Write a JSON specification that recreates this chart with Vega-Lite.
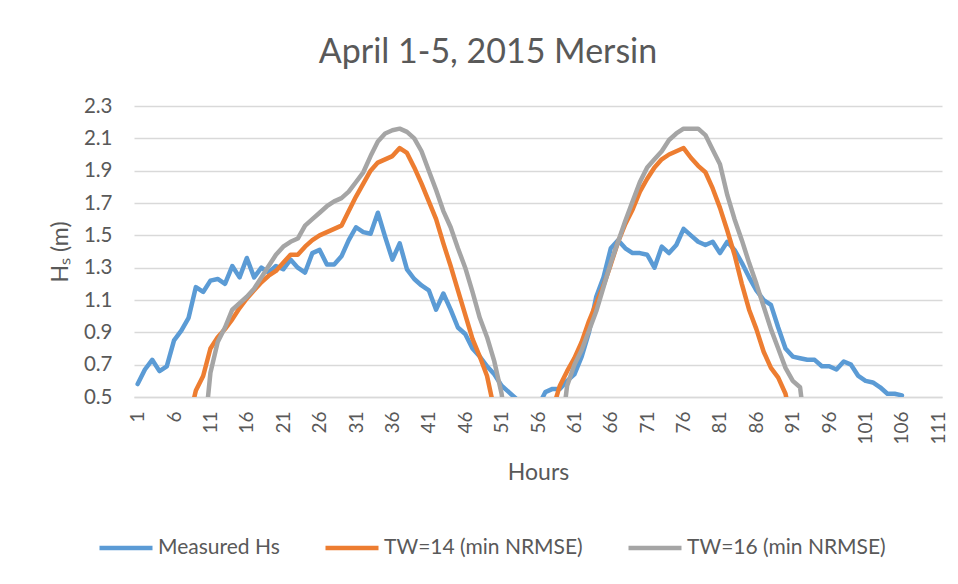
{
  "$schema": "https://vega.github.io/schema/vega-lite/v6.json",
  "width": 808,
  "height": 291,
  "autosize": {"type": "none"},
  "padding": {"left": 134, "top": 106, "right": 16, "bottom": 187},
  "background": "white",
  "title": {"text": "April 1-5, 2015 Mersin", "fontSize": 34, "font": "Lato", "fontWeight": "normal", "color": "#595959", "offset": 26, "dx": -50},
  "data": {"values": [
    {"h":1,"s":"Measured Hs","v":0.58},{"h":2,"s":"Measured Hs","v":0.67},{"h":3,"s":"Measured Hs","v":0.73},{"h":4,"s":"Measured Hs","v":0.66},{"h":5,"s":"Measured Hs","v":0.69},
    {"h":6,"s":"Measured Hs","v":0.85},{"h":7,"s":"Measured Hs","v":0.91},{"h":8,"s":"Measured Hs","v":0.99},{"h":9,"s":"Measured Hs","v":1.18},{"h":10,"s":"Measured Hs","v":1.15},
    {"h":11,"s":"Measured Hs","v":1.22},{"h":12,"s":"Measured Hs","v":1.23},{"h":13,"s":"Measured Hs","v":1.20},{"h":14,"s":"Measured Hs","v":1.31},{"h":15,"s":"Measured Hs","v":1.24},
    {"h":16,"s":"Measured Hs","v":1.36},{"h":17,"s":"Measured Hs","v":1.24},{"h":18,"s":"Measured Hs","v":1.30},{"h":19,"s":"Measured Hs","v":1.27},{"h":20,"s":"Measured Hs","v":1.31},
    {"h":21,"s":"Measured Hs","v":1.29},{"h":22,"s":"Measured Hs","v":1.35},{"h":23,"s":"Measured Hs","v":1.30},{"h":24,"s":"Measured Hs","v":1.27},{"h":25,"s":"Measured Hs","v":1.39},
    {"h":26,"s":"Measured Hs","v":1.41},{"h":27,"s":"Measured Hs","v":1.32},{"h":28,"s":"Measured Hs","v":1.32},{"h":29,"s":"Measured Hs","v":1.37},{"h":30,"s":"Measured Hs","v":1.47},
    {"h":31,"s":"Measured Hs","v":1.55},{"h":32,"s":"Measured Hs","v":1.52},{"h":33,"s":"Measured Hs","v":1.51},{"h":34,"s":"Measured Hs","v":1.64},{"h":35,"s":"Measured Hs","v":1.49},
    {"h":36,"s":"Measured Hs","v":1.35},{"h":37,"s":"Measured Hs","v":1.45},{"h":38,"s":"Measured Hs","v":1.29},{"h":39,"s":"Measured Hs","v":1.23},{"h":40,"s":"Measured Hs","v":1.19},
    {"h":41,"s":"Measured Hs","v":1.16},{"h":42,"s":"Measured Hs","v":1.04},{"h":43,"s":"Measured Hs","v":1.14},{"h":44,"s":"Measured Hs","v":1.04},{"h":45,"s":"Measured Hs","v":0.93},
    {"h":46,"s":"Measured Hs","v":0.89},{"h":47,"s":"Measured Hs","v":0.80},{"h":48,"s":"Measured Hs","v":0.75},{"h":49,"s":"Measured Hs","v":0.69},{"h":50,"s":"Measured Hs","v":0.64},
    {"h":51,"s":"Measured Hs","v":0.57},{"h":52,"s":"Measured Hs","v":0.53},{"h":53,"s":"Measured Hs","v":0.49},{"h":54,"s":"Measured Hs","v":0.40},{"h":55,"s":"Measured Hs","v":0.38},
    {"h":56,"s":"Measured Hs","v":0.44},{"h":57,"s":"Measured Hs","v":0.53},{"h":58,"s":"Measured Hs","v":0.55},{"h":59,"s":"Measured Hs","v":0.55},{"h":60,"s":"Measured Hs","v":0.60},
    {"h":61,"s":"Measured Hs","v":0.64},{"h":62,"s":"Measured Hs","v":0.75},{"h":63,"s":"Measured Hs","v":0.90},{"h":64,"s":"Measured Hs","v":1.12},{"h":65,"s":"Measured Hs","v":1.24},
    {"h":66,"s":"Measured Hs","v":1.42},{"h":67,"s":"Measured Hs","v":1.47},{"h":68,"s":"Measured Hs","v":1.42},{"h":69,"s":"Measured Hs","v":1.39},{"h":70,"s":"Measured Hs","v":1.39},
    {"h":71,"s":"Measured Hs","v":1.38},{"h":72,"s":"Measured Hs","v":1.30},{"h":73,"s":"Measured Hs","v":1.43},{"h":74,"s":"Measured Hs","v":1.39},{"h":75,"s":"Measured Hs","v":1.44},
    {"h":76,"s":"Measured Hs","v":1.54},{"h":77,"s":"Measured Hs","v":1.50},{"h":78,"s":"Measured Hs","v":1.46},{"h":79,"s":"Measured Hs","v":1.44},{"h":80,"s":"Measured Hs","v":1.46},
    {"h":81,"s":"Measured Hs","v":1.39},{"h":82,"s":"Measured Hs","v":1.46},{"h":83,"s":"Measured Hs","v":1.41},{"h":84,"s":"Measured Hs","v":1.33},{"h":85,"s":"Measured Hs","v":1.24},
    {"h":86,"s":"Measured Hs","v":1.16},{"h":87,"s":"Measured Hs","v":1.10},{"h":88,"s":"Measured Hs","v":1.07},{"h":89,"s":"Measured Hs","v":0.93},{"h":90,"s":"Measured Hs","v":0.80},
    {"h":91,"s":"Measured Hs","v":0.75},{"h":92,"s":"Measured Hs","v":0.74},{"h":93,"s":"Measured Hs","v":0.73},{"h":94,"s":"Measured Hs","v":0.73},{"h":95,"s":"Measured Hs","v":0.69},
    {"h":96,"s":"Measured Hs","v":0.69},{"h":97,"s":"Measured Hs","v":0.67},{"h":98,"s":"Measured Hs","v":0.72},{"h":99,"s":"Measured Hs","v":0.70},{"h":100,"s":"Measured Hs","v":0.63},
    {"h":101,"s":"Measured Hs","v":0.60},{"h":102,"s":"Measured Hs","v":0.59},{"h":103,"s":"Measured Hs","v":0.56},{"h":104,"s":"Measured Hs","v":0.52},{"h":105,"s":"Measured Hs","v":0.52},
    {"h":106,"s":"Measured Hs","v":0.51},

    {"h":8,"s":"TW=14 (min NRMSE)","v":0.35},{"h":9,"s":"TW=14 (min NRMSE)","v":0.54},{"h":10,"s":"TW=14 (min NRMSE)","v":0.63},
    {"h":11,"s":"TW=14 (min NRMSE)","v":0.80},{"h":12,"s":"TW=14 (min NRMSE)","v":0.87},{"h":13,"s":"TW=14 (min NRMSE)","v":0.92},{"h":14,"s":"TW=14 (min NRMSE)","v":0.98},{"h":15,"s":"TW=14 (min NRMSE)","v":1.05},
    {"h":16,"s":"TW=14 (min NRMSE)","v":1.11},{"h":17,"s":"TW=14 (min NRMSE)","v":1.16},{"h":18,"s":"TW=14 (min NRMSE)","v":1.21},{"h":19,"s":"TW=14 (min NRMSE)","v":1.25},{"h":20,"s":"TW=14 (min NRMSE)","v":1.28},
    {"h":21,"s":"TW=14 (min NRMSE)","v":1.33},{"h":22,"s":"TW=14 (min NRMSE)","v":1.38},{"h":23,"s":"TW=14 (min NRMSE)","v":1.38},{"h":24,"s":"TW=14 (min NRMSE)","v":1.43},{"h":25,"s":"TW=14 (min NRMSE)","v":1.47},
    {"h":26,"s":"TW=14 (min NRMSE)","v":1.50},{"h":27,"s":"TW=14 (min NRMSE)","v":1.52},{"h":28,"s":"TW=14 (min NRMSE)","v":1.54},{"h":29,"s":"TW=14 (min NRMSE)","v":1.56},{"h":30,"s":"TW=14 (min NRMSE)","v":1.65},
    {"h":31,"s":"TW=14 (min NRMSE)","v":1.74},{"h":32,"s":"TW=14 (min NRMSE)","v":1.82},{"h":33,"s":"TW=14 (min NRMSE)","v":1.90},{"h":34,"s":"TW=14 (min NRMSE)","v":1.95},{"h":35,"s":"TW=14 (min NRMSE)","v":1.97},
    {"h":36,"s":"TW=14 (min NRMSE)","v":1.99},{"h":37,"s":"TW=14 (min NRMSE)","v":2.04},{"h":38,"s":"TW=14 (min NRMSE)","v":2.01},{"h":39,"s":"TW=14 (min NRMSE)","v":1.92},{"h":40,"s":"TW=14 (min NRMSE)","v":1.82},
    {"h":41,"s":"TW=14 (min NRMSE)","v":1.71},{"h":42,"s":"TW=14 (min NRMSE)","v":1.60},{"h":43,"s":"TW=14 (min NRMSE)","v":1.45},{"h":44,"s":"TW=14 (min NRMSE)","v":1.31},{"h":45,"s":"TW=14 (min NRMSE)","v":1.16},
    {"h":46,"s":"TW=14 (min NRMSE)","v":1.01},{"h":47,"s":"TW=14 (min NRMSE)","v":0.86},{"h":48,"s":"TW=14 (min NRMSE)","v":0.75},{"h":49,"s":"TW=14 (min NRMSE)","v":0.63},{"h":50,"s":"TW=14 (min NRMSE)","v":0.42},
    {"h":51,"s":"TW=14 (min NRMSE)","v":0.30},{"h":57,"s":"TW=14 (min NRMSE)","v":0.30},{"h":58,"s":"TW=14 (min NRMSE)","v":0.42},{"h":59,"s":"TW=14 (min NRMSE)","v":0.57},{"h":60,"s":"TW=14 (min NRMSE)","v":0.66},
    {"h":61,"s":"TW=14 (min NRMSE)","v":0.74},{"h":62,"s":"TW=14 (min NRMSE)","v":0.84},{"h":63,"s":"TW=14 (min NRMSE)","v":0.97},{"h":64,"s":"TW=14 (min NRMSE)","v":1.08},{"h":65,"s":"TW=14 (min NRMSE)","v":1.19},
    {"h":66,"s":"TW=14 (min NRMSE)","v":1.32},{"h":67,"s":"TW=14 (min NRMSE)","v":1.46},{"h":68,"s":"TW=14 (min NRMSE)","v":1.57},{"h":69,"s":"TW=14 (min NRMSE)","v":1.66},{"h":70,"s":"TW=14 (min NRMSE)","v":1.77},
    {"h":71,"s":"TW=14 (min NRMSE)","v":1.85},{"h":72,"s":"TW=14 (min NRMSE)","v":1.92},{"h":73,"s":"TW=14 (min NRMSE)","v":1.97},{"h":74,"s":"TW=14 (min NRMSE)","v":2.00},{"h":75,"s":"TW=14 (min NRMSE)","v":2.02},
    {"h":76,"s":"TW=14 (min NRMSE)","v":2.04},{"h":77,"s":"TW=14 (min NRMSE)","v":1.98},{"h":78,"s":"TW=14 (min NRMSE)","v":1.93},{"h":79,"s":"TW=14 (min NRMSE)","v":1.89},{"h":80,"s":"TW=14 (min NRMSE)","v":1.79},
    {"h":81,"s":"TW=14 (min NRMSE)","v":1.67},{"h":82,"s":"TW=14 (min NRMSE)","v":1.53},{"h":83,"s":"TW=14 (min NRMSE)","v":1.38},{"h":84,"s":"TW=14 (min NRMSE)","v":1.20},{"h":85,"s":"TW=14 (min NRMSE)","v":1.04},
    {"h":86,"s":"TW=14 (min NRMSE)","v":0.92},{"h":87,"s":"TW=14 (min NRMSE)","v":0.78},{"h":88,"s":"TW=14 (min NRMSE)","v":0.68},{"h":89,"s":"TW=14 (min NRMSE)","v":0.62},{"h":90,"s":"TW=14 (min NRMSE)","v":0.52},
    {"h":91,"s":"TW=14 (min NRMSE)","v":0.30},

    {"h":10,"s":"TW=16 (min NRMSE)","v":0.20},{"h":11,"s":"TW=16 (min NRMSE)","v":0.65},{"h":12,"s":"TW=16 (min NRMSE)","v":0.84},{"h":13,"s":"TW=16 (min NRMSE)","v":0.93},{"h":14,"s":"TW=16 (min NRMSE)","v":1.04},
    {"h":15,"s":"TW=16 (min NRMSE)","v":1.08},{"h":16,"s":"TW=16 (min NRMSE)","v":1.12},{"h":17,"s":"TW=16 (min NRMSE)","v":1.17},{"h":18,"s":"TW=16 (min NRMSE)","v":1.24},{"h":19,"s":"TW=16 (min NRMSE)","v":1.31},
    {"h":20,"s":"TW=16 (min NRMSE)","v":1.38},{"h":21,"s":"TW=16 (min NRMSE)","v":1.43},{"h":22,"s":"TW=16 (min NRMSE)","v":1.46},{"h":23,"s":"TW=16 (min NRMSE)","v":1.48},{"h":24,"s":"TW=16 (min NRMSE)","v":1.56},
    {"h":25,"s":"TW=16 (min NRMSE)","v":1.60},{"h":26,"s":"TW=16 (min NRMSE)","v":1.64},{"h":27,"s":"TW=16 (min NRMSE)","v":1.68},{"h":28,"s":"TW=16 (min NRMSE)","v":1.71},{"h":29,"s":"TW=16 (min NRMSE)","v":1.73},
    {"h":30,"s":"TW=16 (min NRMSE)","v":1.77},{"h":31,"s":"TW=16 (min NRMSE)","v":1.83},{"h":32,"s":"TW=16 (min NRMSE)","v":1.89},{"h":33,"s":"TW=16 (min NRMSE)","v":1.99},{"h":34,"s":"TW=16 (min NRMSE)","v":2.08},
    {"h":35,"s":"TW=16 (min NRMSE)","v":2.13},{"h":36,"s":"TW=16 (min NRMSE)","v":2.15},{"h":37,"s":"TW=16 (min NRMSE)","v":2.16},{"h":38,"s":"TW=16 (min NRMSE)","v":2.14},{"h":39,"s":"TW=16 (min NRMSE)","v":2.10},
    {"h":40,"s":"TW=16 (min NRMSE)","v":2.02},{"h":41,"s":"TW=16 (min NRMSE)","v":1.90},{"h":42,"s":"TW=16 (min NRMSE)","v":1.78},{"h":43,"s":"TW=16 (min NRMSE)","v":1.65},{"h":44,"s":"TW=16 (min NRMSE)","v":1.55},
    {"h":45,"s":"TW=16 (min NRMSE)","v":1.42},{"h":46,"s":"TW=16 (min NRMSE)","v":1.30},{"h":47,"s":"TW=16 (min NRMSE)","v":1.15},{"h":48,"s":"TW=16 (min NRMSE)","v":0.99},{"h":49,"s":"TW=16 (min NRMSE)","v":0.87},
    {"h":50,"s":"TW=16 (min NRMSE)","v":0.72},{"h":51,"s":"TW=16 (min NRMSE)","v":0.52},{"h":52,"s":"TW=16 (min NRMSE)","v":0.20},{"h":59,"s":"TW=16 (min NRMSE)","v":0.20},{"h":60,"s":"TW=16 (min NRMSE)","v":0.57},
    {"h":61,"s":"TW=16 (min NRMSE)","v":0.70},{"h":62,"s":"TW=16 (min NRMSE)","v":0.79},{"h":63,"s":"TW=16 (min NRMSE)","v":0.91},{"h":64,"s":"TW=16 (min NRMSE)","v":1.03},{"h":65,"s":"TW=16 (min NRMSE)","v":1.18},
    {"h":66,"s":"TW=16 (min NRMSE)","v":1.33},{"h":67,"s":"TW=16 (min NRMSE)","v":1.46},{"h":68,"s":"TW=16 (min NRMSE)","v":1.59},{"h":69,"s":"TW=16 (min NRMSE)","v":1.71},{"h":70,"s":"TW=16 (min NRMSE)","v":1.83},
    {"h":71,"s":"TW=16 (min NRMSE)","v":1.92},{"h":72,"s":"TW=16 (min NRMSE)","v":1.97},{"h":73,"s":"TW=16 (min NRMSE)","v":2.02},{"h":74,"s":"TW=16 (min NRMSE)","v":2.09},{"h":75,"s":"TW=16 (min NRMSE)","v":2.13},
    {"h":76,"s":"TW=16 (min NRMSE)","v":2.16},{"h":77,"s":"TW=16 (min NRMSE)","v":2.16},{"h":78,"s":"TW=16 (min NRMSE)","v":2.16},{"h":79,"s":"TW=16 (min NRMSE)","v":2.12},{"h":80,"s":"TW=16 (min NRMSE)","v":2.03},
    {"h":81,"s":"TW=16 (min NRMSE)","v":1.94},{"h":82,"s":"TW=16 (min NRMSE)","v":1.75},{"h":83,"s":"TW=16 (min NRMSE)","v":1.60},{"h":84,"s":"TW=16 (min NRMSE)","v":1.47},{"h":85,"s":"TW=16 (min NRMSE)","v":1.33},
    {"h":86,"s":"TW=16 (min NRMSE)","v":1.20},{"h":87,"s":"TW=16 (min NRMSE)","v":1.06},{"h":88,"s":"TW=16 (min NRMSE)","v":0.92},{"h":89,"s":"TW=16 (min NRMSE)","v":0.80},{"h":90,"s":"TW=16 (min NRMSE)","v":0.68},
    {"h":91,"s":"TW=16 (min NRMSE)","v":0.60},{"h":92,"s":"TW=16 (min NRMSE)","v":0.56},{"h":93,"s":"TW=16 (min NRMSE)","v":0.20}
  ]},
  "mark": {"type": "line", "clip": true, "strokeWidth": 4.5, "strokeCap": "round", "strokeJoin": "round"},
  "encoding": {
    "x": {"field": "h", "type": "quantitative", "title": "Hours",
      "scale": {"domain": [0.5, 111.5], "nice": false, "zero": false},
      "axis": {"values": [1,6,11,16,21,26,31,36,41,46,51,56,61,66,71,76,81,86,91,96,101,106,111],
        "labelAngle": -90, "grid": false, "ticks": false, "tickSize": 0, "labelPadding": 14,
        "domain": true, "domainColor": "#d9d9d9", "domainWidth": 1.5, "titlePadding": 17, "titleFontSize": 23, "labelFlush": false, "labelOverlap": false}},
    "y": {"field": "v", "type": "quantitative", "title": "Hₛ (m)",
      "scale": {"domain": [0.5, 2.3], "nice": false, "zero": false},
      "axis": {"values": [0.5,0.7,0.9,1.1,1.3,1.5,1.7,1.9,2.1,2.3], "format": ".1f",
        "grid": true, "gridColor": "#d9d9d9", "gridWidth": 1.5, "ticks": false, "tickSize": 0, "domain": false,
        "labelPadding": 22, "labelFontSize": 20.5, "titlePadding": 11, "titleFontSize": 23, "labelFlush": false, "labelOverlap": false}},
    "color": {"field": "s", "type": "nominal",
      "scale": {"domain": ["Measured Hs", "TW=14 (min NRMSE)", "TW=16 (min NRMSE)"], "range": ["#5B9BD5", "#ED7D31", "#A5A5A5"]},
      "legend": {"title": null, "orient": "none", "legendX": -37, "legendY": 413, "direction": "horizontal",
        "symbolType": "stroke", "symbolSize": 2809, "symbolStrokeWidth": 4.5, "labelOffset": 3, "columnPadding": 36,
        "labelFontSize": 21, "labelLimit": 0, "labelColor": "#595959", "labelFont": "Lato"}}
  },
  "config": {
    "view": {"stroke": null},
    "axis": {"labelFont": "Lato", "titleFont": "Lato", "labelFontSize": 19, "titleFontSize": 21, "labelColor": "#595959", "titleColor": "#595959", "titleFontWeight": "normal"}
  }
}
